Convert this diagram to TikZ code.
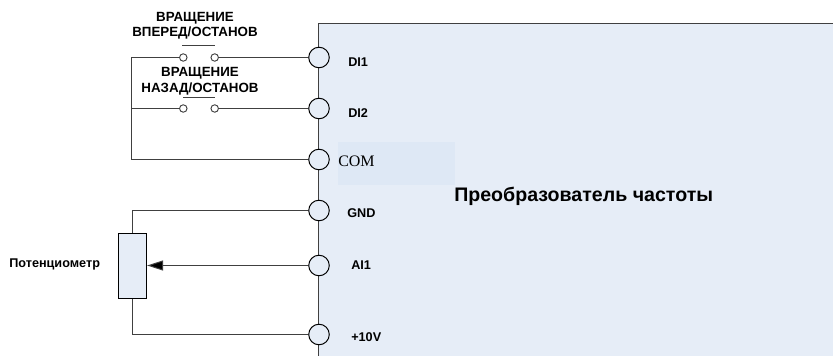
\documentclass[tikz,border=0pt]{standalone}
\usepackage{fontspec}
\setmainfont{Liberation Sans}
\newfontfamily\timesf{Liberation Serif}
\usetikzlibrary{arrows.meta}
\definecolor{boxfill}{HTML}{E6EDF7}
\definecolor{comfill}{HTML}{DEE8F5}
\definecolor{wirec}{HTML}{404040}
\tikzset{
  x=0.75pt,y=-0.75pt,
  wire/.style={draw=wirec,line width=0.75pt},
  port/.style={circle,draw=black,fill=boxfill,line width=0.75pt,minimum size=15.4pt,inner sep=0pt},
  contact/.style={circle,draw=wirec,fill=white,line width=0.7pt,minimum size=5.6pt,inner sep=0pt},
  lbl/.style={font=\bfseries\fontsize{9.5pt}{11pt}\selectfont,text=black,inner sep=0pt},
  captexta/.style={lbl,align=center,font=\bfseries\fontsize{10pt}{10.9pt}\selectfont},
  captextb/.style={lbl,align=center,font=\bfseries\fontsize{10pt}{12pt}\selectfont},
}
\begin{document}
\begin{tikzpicture}
\useasboundingbox (0,0) rectangle (833,356);
\fill[boxfill] (318.5,24) rectangle (833,356);
\draw[wire] (318.5,356) -- (318.5,24) -- (833,24);
\node[fill=comfill,minimum width=87.75pt,minimum height=32.25pt,inner sep=0pt] (comband) at (396.5,163.5) {};
\node[port] (di1) at (319,57.5) {};
\node[port] (di2) at (319,108.5) {};
\node[port] (com) at (319,159.5) {};
\node[port] (gnd) at (319,210.5) {};
\node[port] (ai1) at (319,265.5) {};
\node[port] (pten) at (319,334.5) {};
\node[contact] (s1a) at (183.3,57.5) {};
\node[contact] (s1b) at (214.7,57.5) {};
\node[contact] (s2a) at (183.3,108.5) {};
\node[contact] (s2b) at (214.7,108.5) {};
\coordinate (b1) at (131.5,57.5);
\coordinate (b2) at (131.5,108.5);
\coordinate (b3) at (131.5,159.5);
\draw[wire] (s1a) -- (b1) -- (b3) -- (com);
\draw[wire] (b2) -- (s2a);
\draw[wire] (s1b) -- (di1);
\draw[wire] (s2b) -- (di2);
\coordinate (bar1a) at (182,45.5);
\coordinate (bar1b) at (215,45.5);
\coordinate (bar2a) at (183,97.5);
\coordinate (bar2b) at (215,97.5);
\draw[wire] (bar1a) -- (bar1b);
\draw[wire] (bar2a) -- (bar2b);
\node[draw=black,fill=boxfill,line width=0.75pt,minimum width=21.2pt,minimum height=48.75pt,inner sep=0pt] (pot) at (132.5,265.8) {};
\coordinate (gt) at (pot.north |- gnd);
\coordinate (bt) at (pot.south |- pten);
\draw[wire] (pot.north) -- (gt) -- (gnd);
\draw[wire] (pot.south) -- (bt) -- (pten);
\draw[wire,-{Triangle[length=12pt,width=7.5pt,fill=black]}] (ai1) -- (pot.east |- ai1);
\node[captexta] (t1) at (195,25.8) {ВРАЩЕНИЕ\\ВПЕРЕД/ОСТАНОВ};
\node[captextb] (t2) at (200,81) {ВРАЩЕНИЕ\\НАЗАД/ОСТАНОВ};
\node[lbl,anchor=west] (l1) at (348,62) {DI1};
\node[lbl,anchor=west] (l2) at (348,113) {DI2};
\node[anchor=west,inner sep=0pt,font=\timesf\fontsize{12pt}{13pt}\selectfont,text=black] (l3) at (338,161) {COM};
\node[lbl,anchor=west] (l4) at (347,213) {GND};
\node[lbl,anchor=west] (l5) at (351,265.5) {AI1};
\node[lbl,anchor=west] (l6) at (351,337) {+10V};
\node[lbl,anchor=west] (p) at (9,264) {Потенциометр};
\node[anchor=west,inner sep=0pt,font=\bfseries\fontsize{14.7pt}{16pt}\selectfont] (m) at (454,196) {Преобразователь частоты};
\end{tikzpicture}
\end{document}
